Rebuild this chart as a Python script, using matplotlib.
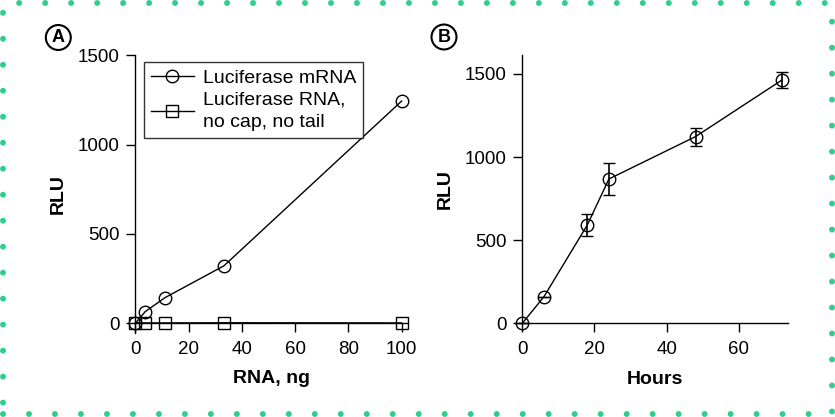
import matplotlib
matplotlib.use("Agg")
import matplotlib.pyplot as plt
from matplotlib.patches import Rectangle

plt.rcParams['font.family'] = ['Liberation Sans', 'DejaVu Sans']

# Panel A data
rna_ng = [0, 3.7, 11.1, 33.3, 100]
rlu_mrna = [0, 65, 143, 322, 1244]
rlu_nocap = [3, 2, 2, 3, 2]
xticks_a = [0, 20, 40, 60, 80, 100]
yticks_a = [0, 500, 1000, 1500]

# Panel B data
hours = [0, 6, 18, 24, 48, 72]
rlu_time = [0, 160, 591, 868, 1123, 1464]
rlu_err = [0, 0, 68, 95, 54, 47]
xticks_b = [0, 20, 40, 60]
yticks_b = [0, 500, 1000, 1500]

W, H = 835, 417
fig = plt.figure(figsize=(W / 100, H / 100), dpi=100)

FS_TICK = 13.5
FS_LAB = 14

def style(ax):
    for s in ['top', 'right']:
        ax.spines[s].set_visible(False)
    for s in ['left', 'bottom']:
        ax.spines[s].set_linewidth(1.0)
    ax.tick_params(direction='out', length=6.3, width=1.0, labelsize=FS_TICK)
    ax.tick_params(axis='x', pad=6.5)
    ax.tick_params(axis='y', pad=5)

# Panel A
axA = fig.add_axes([135.3 / W, (H - 333.3) / H, 271.7 / W, 278.0 / H])
axA.plot(rna_ng, rlu_mrna, '-', color='black', lw=1.0, marker='o', ms=9,
         mfc='none', mec='black', mew=1.0, clip_on=False, zorder=3,
         label='Luciferase mRNA')
axA.plot(rna_ng, rlu_nocap, '-', color='black', lw=1.0, marker='s', ms=8.5,
         mfc='none', mec='black', mew=1.0, clip_on=False, zorder=3,
         label='Luciferase RNA,\nno cap, no tail')
axA.set_xlim(0, 102)
axA.set_ylim(-56, 1500)
axA.spines['bottom'].set_position(('data', 0))
axA.set_xticks(xticks_a)
axA.set_yticks(yticks_a)
style(axA)
axA.set_xlabel('RNA, ng', fontsize=FS_LAB, fontweight='bold', labelpad=8.5)
axA.set_ylabel('RLU', fontsize=FS_LAB, fontweight='bold', labelpad=8)
leg = axA.legend(loc='upper left', bbox_to_anchor=(0.033, 0.975), borderaxespad=0,
                 fontsize=FS_LAB, frameon=True, fancybox=False, edgecolor='black',
                 handlelength=2.2, handletextpad=0.45, borderpad=0.35,
                 labelspacing=0.25)
leg.get_frame().set_linewidth(1.0)
for t in leg.get_texts():
    t.set_linespacing(1.45)
axA.text(58.3 / W, 1 - 37.5 / H, 'A', transform=fig.transFigure, fontsize=13,
         fontweight='bold', ha='center', va='center',
         bbox=dict(boxstyle='circle,pad=0.22', fc='white', ec='black', lw=1.5))

# Panel B
axB = fig.add_axes([522.3 / W, (H - 323.3) / H, 266.0 / W, 268.0 / H])
axB.errorbar(hours, rlu_time, yerr=rlu_err, fmt='-o', color='black', lw=1.0,
             ms=9, mfc='none', mec='black', mew=1.0, ecolor='black',
             elinewidth=1.2, capsize=4.3, capthick=1.2, clip_on=False, zorder=3)
for art in axB.get_children():
    try:
        art.set_clip_on(False)
    except Exception:
        pass
axB.set_xlim(0, 73.7)
axB.set_ylim(0, 1612)
axB.set_xticks(xticks_b)
axB.set_yticks(yticks_b)
style(axB)
axB.set_xlabel('Hours', fontsize=FS_LAB, fontweight='bold', labelpad=9)
axB.set_ylabel('RLU', fontsize=FS_LAB, fontweight='bold', labelpad=8)
axB.text(444 / W, 1 - 37 / H, 'B', transform=fig.transFigure, fontsize=13,
         fontweight='bold', ha='center', va='center',
         bbox=dict(boxstyle='circle,pad=0.22', fc='white', ec='black', lw=1.5))

# Dotted border
border = Rectangle((2.7 / W, 2.7 / H), 829.3 / W, 411.6 / H, transform=fig.transFigure,
                   fill=False, edgecolor='#2ecf8e', linewidth=4.3,
                   linestyle=(0, (0.001, 4.35)), capstyle='round', zorder=0)
fig.patches.append(border)

fig.savefig('out.png', dpi=100)
